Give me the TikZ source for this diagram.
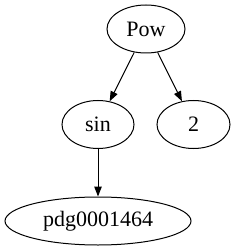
\documentclass[tikz,border=0pt]{standalone}
\usepackage{fontspec}
\setmainfont{Liberation Serif}
\usepackage{tikz}
\usetikzlibrary{shapes.geometric, arrows.meta}

\begin{document}
\begin{tikzpicture}[x=1pt, y=1pt, line width=1pt,
		treenode/.style={draw, ellipse, inner sep=0pt, minimum height=48pt,
			font=\fontsize{22}{26}\selectfont},
		>={Triangle[length=10pt, width=7.5pt]}]
		\useasboundingbox (0,0) rectangle (235,-251);

		% Nodes
		\node[treenode, minimum width=78pt] (pow) at (146,-29) {Pow};
		\node[treenode, minimum width=72pt] (sin) at (98,-124.5) {sin};
		\node[treenode, minimum width=73pt] (two) at (193.5,-124.5) {2};
		\node[treenode, minimum width=186pt] (pdg) at (98,-221) {pdg0001464};

		% Edges
		\draw[->] (pow) -- (sin);
		\draw[->] (pow) -- (two);
		\draw[->] (sin) -- (pdg);
	\end{tikzpicture}
\end{document}
